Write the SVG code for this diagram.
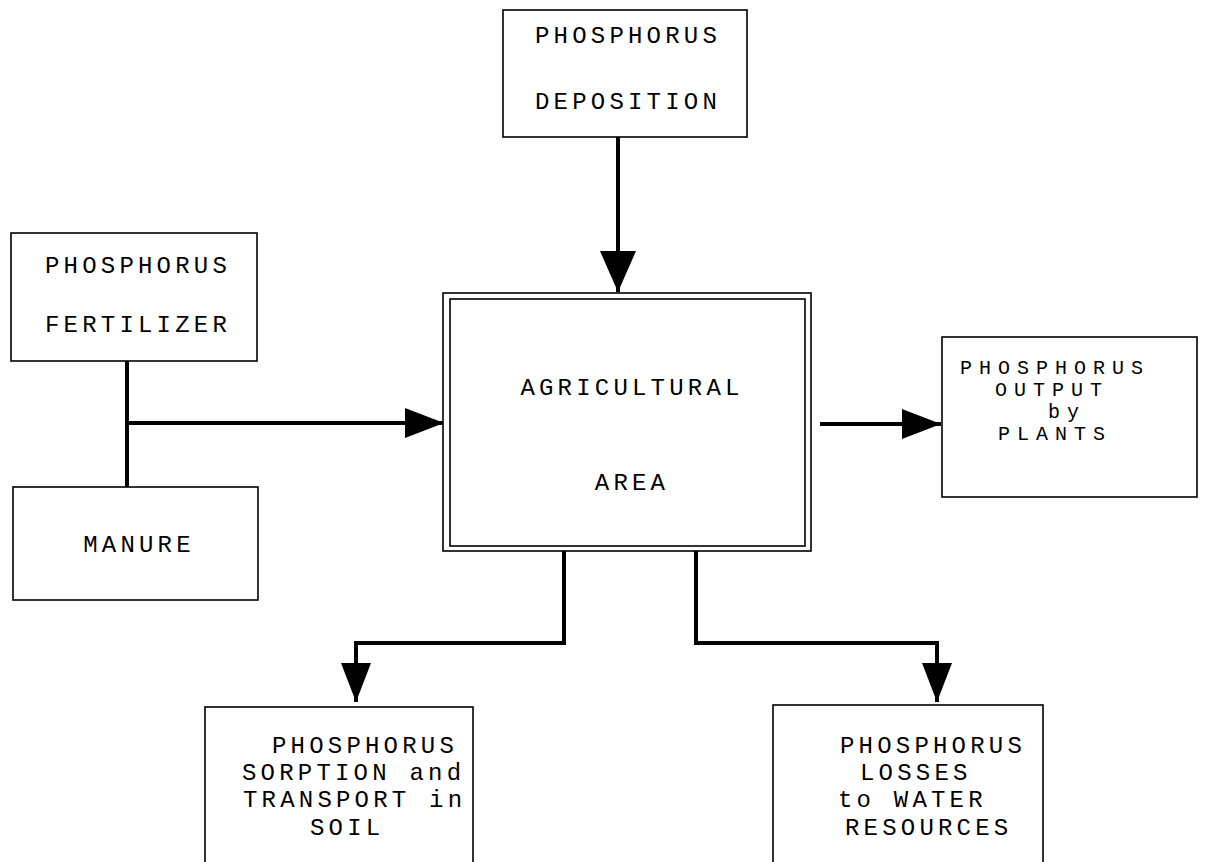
<svg xmlns="http://www.w3.org/2000/svg" width="1226" height="862" viewBox="0 0 1226 862">
<style>
.box{fill:#fff;stroke:#000;stroke-width:1.6}
.t{font-family:"Liberation Mono","Courier New",monospace;font-size:24px;letter-spacing:4.2px;fill:#000}
.s{font-size:20px;letter-spacing:7px}
.c{text-anchor:middle}
.con{fill:none;stroke:#000;stroke-width:4}
</style>
<defs>
<marker id="big" markerUnits="userSpaceOnUse" markerWidth="42" markerHeight="38" refX="41" refY="19" orient="auto" viewBox="0 0 42 38">
<path d="M0,1 L41,19 L0,37 z" fill="#000"/>
</marker>
<marker id="sm" markerUnits="userSpaceOnUse" markerWidth="40" markerHeight="32" refX="39" refY="16" orient="auto" viewBox="0 0 40 32">
<path d="M0,1 L39,16 L0,31 z" fill="#000"/>
</marker>
</defs>
<rect width="1226" height="862" fill="#fff"/>
<g id="connectors">
<line class="con" x1="618" y1="137" x2="618" y2="292" marker-end="url(#big)"/>
<line class="con" x1="127" y1="361" x2="127" y2="487"/>
<line class="con" x1="127" y1="423" x2="444" y2="423" marker-end="url(#sm)"/>
<line class="con" x1="820" y1="424" x2="941" y2="424" marker-end="url(#sm)"/>
<path class="con" d="M564,551 V643 H356 V702" marker-end="url(#sm)"/>
<path class="con" d="M696,551 V643 H937 V702" marker-end="url(#sm)"/>
</g>
<g id="deposition">
<rect class="box" x="503" y="10" width="244" height="127"/>
<text class="t c" x="628" y="43">PHOSPHORUS</text>
<text class="t c" x="628" y="109">DEPOSITION</text>
</g>
<g id="fertilizer">
<rect class="box" x="11" y="233" width="246" height="128"/>
<text class="t c" x="138" y="273">PHOSPHORUS</text>
<text class="t c" x="138" y="332">FERTILIZER</text>
</g>
<g id="manure">
<rect class="box" x="13" y="487" width="245" height="113"/>
<text class="t c" x="139" y="552">MANURE</text>
</g>
<g id="agricultural">
<rect class="box" x="443" y="293" width="368" height="258"/>
<rect class="box" x="450" y="299" width="355" height="247"/>
<text class="t c" x="632" y="395">AGRICULTURAL</text>
<text class="t c" x="632" y="490">AREA</text>
</g>
<g id="output">
<rect class="box" x="942" y="337" width="255" height="160"/>
<text class="t s" x="960" y="374">PHOSPHORUS</text>
<text class="t s" x="995" y="396">OUTPUT</text>
<text class="t s" x="1048" y="418">by</text>
<text class="t s" x="998" y="440">PLANTS</text>
</g>
<g id="sorption">
<rect class="box" x="205" y="707" width="268" height="170"/>
<text class="t" x="272" y="753">PHOSPHORUS</text>
<text class="t" x="242" y="780">SORPTION and</text>
<text class="t" x="243" y="807">TRANSPORT in</text>
<text class="t" x="310" y="835">SOIL</text>
</g>
<g id="losses">
<rect class="box" x="773" y="705" width="270" height="172"/>
<text class="t" x="840" y="753">PHOSPHORUS</text>
<text class="t" x="860" y="780">LOSSES</text>
<text class="t" x="838" y="807">to WATER</text>
<text class="t" x="845" y="835">RESOURCES</text>
</g>
</svg>
